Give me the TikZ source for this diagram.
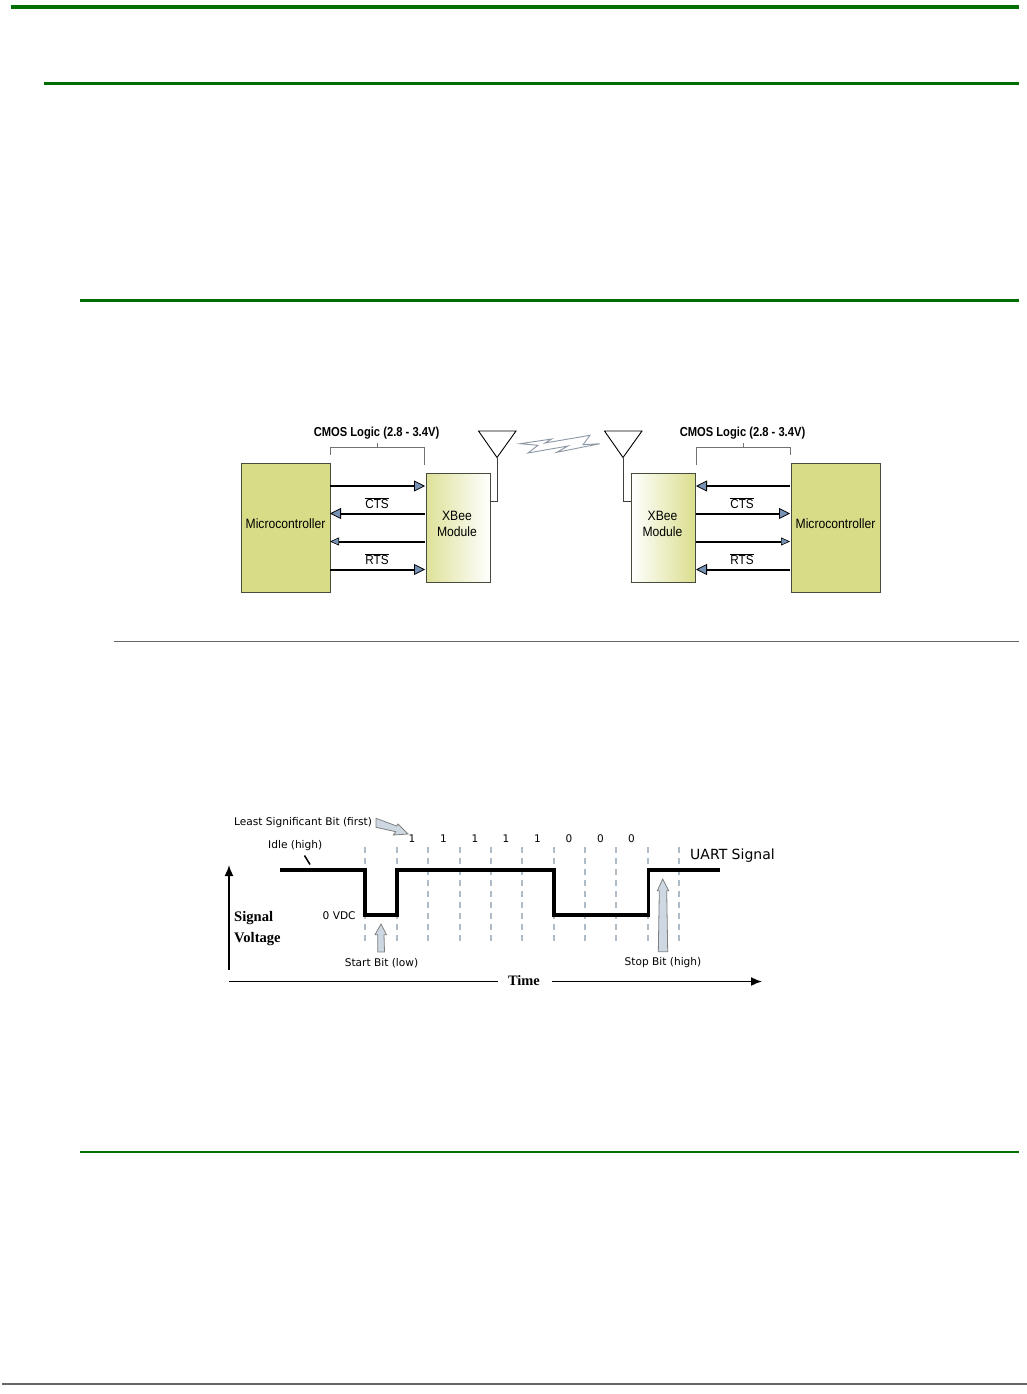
\documentclass[tikz,border=0pt]{standalone}
\usepackage{fontspec}
\setmainfont{Liberation Sans}
\newfontfamily\verd{DejaVu Sans}
\newfontfamily\seriffont{Liberation Serif}
\newfontfamily\cond[FakeStretch=0.9]{Liberation Sans}
\newfontfamily\condb[FakeStretch=0.86]{Liberation Sans}
\usetikzlibrary{arrows.meta}
\definecolor{rulegreen}{RGB}{0,110,0}
\definecolor{mcu}{RGB}{216,220,134}
\definecolor{tipblue}{RGB}{118,146,180}
\definecolor{callout}{RGB}{205,216,226}
\definecolor{dashc}{RGB}{175,187,198}
\definecolor{framec}{RGB}{70,75,60}
\definecolor{boltc}{RGB}{140,152,165}
\tikzset{
 x=1pt,y=-1pt,
 greenrule/.style={draw=rulegreen,line width=3pt},
 grayrule/.style={draw=black!60,line width=1pt},
 mcubox/.style={draw=framec,line width=1.3pt,fill=mcu,minimum width=89pt,minimum height=129.5pt,inner sep=0pt,anchor=north west},
 xbee/.style={draw=framec,line width=1.3pt,minimum width=64pt,minimum height=109.5pt,inner sep=0pt,anchor=north west},
 boxtext/.style={inner sep=0pt,align=center,font=\cond\fontsize{13.5}{16}\selectfont},
 sig/.style={draw=black,line width=2pt,-{Triangle[length=11pt,width=11pt,fill=tipblue,line width=0.8pt]}},
 sigsmall/.style={draw=black,line width=2pt,-{Triangle[length=9pt,width=8pt,fill=tipblue,line width=0.6pt]}},
 thinline/.style={draw=black!75,line width=1pt},
 bracket/.style={draw=black!55,line width=0.8pt},
 ant/.style={draw=black,line width=0.9pt,fill=white},
 bolt/.style={draw=boltc,line width=0.9pt,fill=white,line join=miter},
 sglabel/.style={font=\cond\fontsize{13}{15}\selectfont,inner sep=0pt},
 cmos/.style={font=\condb\fontsize{13}{15}\selectfont\bfseries,inner sep=0pt},
 vtext/.style={font=\verd\fontsize{10.6}{12}\selectfont,inner sep=0pt},
 bitlabel/.style={font=\verd\fontsize{10.5}{12}\selectfont,inner sep=0pt},
 boldaxis/.style={font=\seriffont\bfseries\fontsize{14.6}{21}\selectfont,inner sep=0pt,align=left},
 uart/.style={draw=black,line width=3.2pt,line join=miter},
 tick/.style={draw=dashc,line width=2pt,dash pattern=on 5.5pt off 5.5pt},
 axis/.style={draw=black,line width=1.6pt,-{Latex[length=11pt,width=9pt]}},
 calloutarrow/.style={draw=black!50,line width=0.8pt,fill=callout,line join=miter},
}
\begin{document}
\begin{tikzpicture}
\useasboundingbox (0,0) rectangle (1027,1394);
% page rules
\coordinate (r1a) at (11,7); \coordinate (r1b) at (1019,7);
\coordinate (r2a) at (44,83.5); \coordinate (r2b) at (1019,83.5);
\coordinate (r3a) at (80,300.5); \coordinate (r3b) at (1019,300.5);
\coordinate (r4a) at (114,641.5); \coordinate (r4b) at (1019,641.5);
\coordinate (r5a) at (80,1152); \coordinate (r5b) at (1019,1152);
\coordinate (r6a) at (2,1384); \coordinate (r6b) at (1027,1384);
\draw[greenrule,line width=4pt] (r1a)--(r1b);
\draw[greenrule] (r2a)--(r2b);
\draw[greenrule] (r3a)--(r3b);
\draw[grayrule] (r4a)--(r4b);
\draw[greenrule,line width=2pt] (r5a)--(r5b);
\draw[grayrule,line width=1.4pt] (r6a)--(r6b);

% top diagram
\node[mcubox] (mcl) at (240.5,462.5) {};
\node[xbee,left color=mcu!85,middle color=mcu!30,right color=white] (xl) at (425.5,472.5) {};
\node[xbee,left color=white,middle color=mcu!30,right color=mcu!95] (xr) at (631,472.5) {};
\node[mcubox] (mcr) at (791,462.5) {};
\node[boxtext] (tmcl) at (285.5,523.5) {Microcontroller};
\node[boxtext] (tmcr) at (835.5,523.5) {Microcontroller};
\node[boxtext] (txl) at (457,524) {XBee\\Module};
\node[boxtext] (txr) at (662.5,524) {XBee\\Module};

\foreach \n/\y in {a/486,b/513.5,c/541.5,d/569.5}{
  \coordinate (l\n1) at (330,\y); \coordinate (l\n2) at (425,\y);
  \coordinate (r\n1) at (696,\y); \coordinate (r\n2) at (790,\y);
}
\draw[sig] (la1)--(la2);
\draw[sig] (lb2)--(lb1);
\draw[sigsmall] (lc2)--(lc1);
\draw[sig] (ld1)--(ld2);
\draw[sig] (ra2)--(ra1);
\draw[sig] (rb1)--(rb2);
\draw[sigsmall] (rc1)--(rc2);
\draw[sig] (rd2)--(rd1);
\node[sglabel] (ctsl) at (377,503.5) {$\overline{\hbox{CTS}}$};
\node[sglabel] (rtsl) at (377,559.5) {$\overline{\hbox{RTS}}$};
\node[sglabel] (ctsr) at (742,503.5) {$\overline{\hbox{CTS}}$};
\node[sglabel] (rtsr) at (742,559.5) {$\overline{\hbox{RTS}}$};

\node[cmos] (cl) at (376.5,433.5) {CMOS Logic (2.8 - 3.4V)};
\node[cmos] (cr) at (742.5,433.5) {CMOS Logic (2.8 - 3.4V)};
\draw[bracket] (330.5,455)--(330.5,447)--(424.5,447)--(424.5,465);
\draw[bracket] (377,447)--(377,443);
\draw[bracket] (696.5,465)--(696.5,447)--(790.5,447)--(790.5,455);
\draw[bracket] (743,447)--(743,443);

% antennas
\coordinate (al) at (497,457.5);
\coordinate (ar) at (623,457.5);
\draw[ant] (478.5,431)--(516,431)--(al)--cycle;
\draw[ant] (604.5,431)--(642,431)--(ar)--cycle;
\draw[thinline] (al)--(497,501.5)--(xl.east|-0,501.5);
\draw[thinline] (ar)--(623,501.5)--(xr.west|-0,501.5);
% lightning
\draw[bolt] (520,443.7)--(551.7,439)--(545,443)--(590,435.3)--(583,444.7)--(600,443.7)--(556.7,452.3)--(568,446)--(528,453)--(538,445.3)--cycle;

% bottom diagram
\foreach \x in {365,397,428,460,491,522,554,585,616,648,679}{
  \draw[tick] (\x,847)--(\x,942);
}
\coordinate (u1) at (280,870);
\coordinate (u2) at (365,870);
\coordinate (u3) at (365,915);
\coordinate (u4) at (397,915);
\coordinate (u5) at (397,870);
\coordinate (u6) at (554,870);
\coordinate (u7) at (554,915);
\coordinate (u8) at (648.5,915);
\coordinate (u9) at (648.5,870);
\coordinate (u10) at (720,870);
\draw[uart] (u1)--(u2)--(u3)--(u4)--(u5)--(u6)--(u7)--(u8)--(u9)--(u10);

\node[bitlabel] (b1) at (412,838.5) {1};
\node[bitlabel] (b2) at (443.5,838.5) {1};
\node[bitlabel] (b3) at (475,838.5) {1};
\node[bitlabel] (b4) at (506,838.5) {1};
\node[bitlabel] (b5) at (537.5,838.5) {1};
\node[bitlabel] (b6) at (569,838.5) {0};
\node[bitlabel] (b7) at (600.5,838.5) {0};
\node[bitlabel] (b8) at (631.5,838.5) {0};

\node[vtext,anchor=west] (lsb) at (234,823) {Least Significant Bit (first)};
\node[vtext,anchor=west] (idle) at (268,846) {Idle (high)};
\node[vtext,anchor=west] (zero) at (322.5,915.5) {0 VDC};
\node[vtext] (start) at (381.5,963) {Start Bit (low)};
\node[vtext] (stop) at (663,963) {Stop Bit (high)};
\node[font=\verd\fontsize{14}{16}\selectfont,inner sep=0,anchor=west] (uarts) at (690,856) {UART Signal};
\node[boldaxis,anchor=west] (sv) at (234,928.5) {Signal\\Voltage};
\node[font=\seriffont\bfseries\fontsize{14.4}{16}\selectfont,inner sep=0] (time) at (524,980.5) {Time};

\coordinate (idlea) at (304.5,855.5); \coordinate (idleb) at (310,864.5);
\draw[draw=black,line width=1.5pt] (idlea)--(idleb);

\coordinate (vb) at (229,970); \coordinate (vt) at (229,865);
\draw[axis] (vb)--(vt);
\coordinate (hl) at (229,981.5); \coordinate (hle) at (498,981.5);
\coordinate (hr) at (552,981.5); \coordinate (hre) at (762,981.5);
\draw[draw=black,line width=1.6pt] (hl)--(hle);
\draw[axis] (hr)--(hre);

% callouts
\draw[calloutarrow] (376,818.3)--(396.7,826)--(398,824)--(408,834)--(393.3,835)--(395.7,831.7)--(376,827.3)--cycle;
\draw[calloutarrow] (377.7,952)--(377.7,934.7)--(375,934.7)--(381,924)--(386.5,934.7)--(384,934.7)--(384.5,952)--cycle;
\draw[calloutarrow] (658.3,951.7)--(659.3,890.7)--(657.3,890.7)--(662.7,879)--(668.7,890.7)--(666.7,890.7)--(667.7,951.7)--cycle;
\end{tikzpicture}
\end{document}
